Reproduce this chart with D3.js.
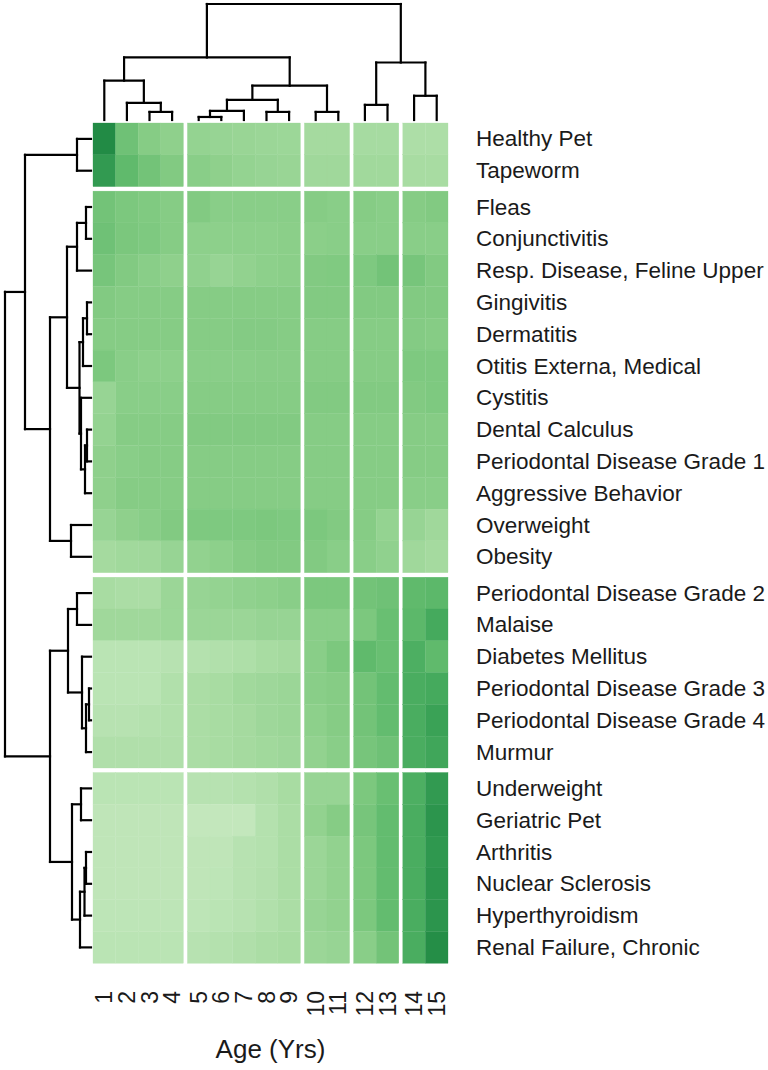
<!DOCTYPE html>
<html>
<head>
<meta charset="utf-8">
<script src="https://cdn.jsdelivr.net/npm/d3@7"></script>
<style>
  html, body { margin: 0; padding: 0; background: #ffffff; }
  svg { display: block; }
  text { font-family: "Liberation Sans", Arial, sans-serif; fill: #1a1a1a; }
</style>
</head>
<body>
<svg id="chart" width="768" height="1070"></svg>
<script>
// ---------------- data ----------------
const ages = ["1","2","3","4","5","6","7","8","9","10","11","12","13","14","15"];
const conditions = [
  "Healthy Pet","Tapeworm","Fleas","Conjunctivitis","Resp. Disease, Feline Upper",
  "Gingivitis","Dermatitis","Otitis Externa, Medical","Cystitis","Dental Calculus",
  "Periodontal Disease Grade 1","Aggressive Behavior","Overweight","Obesity",
  "Periodontal Disease Grade 2","Malaise","Diabetes Mellitus","Periodontal Disease Grade 3",
  "Periodontal Disease Grade 4","Murmur","Underweight","Geriatric Pet","Arthritis",
  "Nuclear Sclerosis","Hyperthyroidism","Renal Failure, Chronic"
];
// relative intensity (0-100) per condition, ages 1..15
const heat = [
  [100,52,40,35,32,30,29,28,27,22,22,21,21,17,17],
  [88,60,50,42,38,35,32,30,29,25,25,24,24,20,20],
  [50,45,43,40,42,38,38,38,38,40,38,40,38,40,42],
  [52,46,44,40,36,36,36,36,37,37,38,38,38,38,38],
  [48,42,38,35,34,30,33,36,37,42,43,44,50,48,42],
  [42,40,40,40,40,40,40,40,40,42,42,42,42,42,42],
  [40,40,40,40,40,40,41,41,40,40,40,40,40,41,40],
  [45,38,36,36,38,38,38,39,39,40,40,40,40,44,44],
  [30,38,38,38,40,40,40,40,40,42,42,42,42,42,44],
  [32,40,40,40,42,42,42,42,42,40,40,40,40,40,40],
  [35,38,40,40,40,40,40,40,40,40,40,40,40,40,40],
  [35,40,40,40,40,40,40,40,40,40,40,40,40,38,38],
  [30,35,38,42,44,44,44,45,44,45,42,40,32,30,25],
  [22,24,25,30,33,36,40,42,42,42,38,38,34,25,22],
  [20,18,18,28,30,32,34,36,38,45,45,50,52,60,62],
  [25,25,25,27,28,28,28,30,30,38,38,45,55,62,75],
  [8,8,8,10,12,14,16,20,22,38,45,60,55,70,60],
  [8,8,8,14,18,20,24,26,28,38,40,50,58,72,75],
  [10,10,12,14,18,20,22,26,28,36,40,50,58,72,82],
  [15,15,15,15,18,20,22,24,26,33,38,48,52,72,78],
  [8,8,8,8,10,10,12,15,20,30,30,45,55,70,88],
  [5,5,5,5,2,2,2,12,18,33,40,48,58,72,92],
  [5,5,5,5,5,5,10,12,18,28,33,45,58,72,90],
  [5,5,5,5,5,6,10,13,18,28,33,45,58,72,92],
  [6,6,6,6,6,8,10,14,18,30,33,45,58,72,92],
  [8,8,8,8,10,12,15,18,20,28,30,38,50,72,98]
];
const colGapsAfter = [4, 9, 11, 13];   // cut positions (cluster splits)
const rowGapsAfter = [2, 14, 20];

// hclust-style merges: negative = leaf (1-based), positive = earlier merge (1-based)
const colMerges = [[-5,-6],[1,-7],[-3,-4],[-8,-9],[-10,-11],[-2,3],[-12,-13],[-14,-15],
                   [2,4],[-1,6],[9,5],[7,8],[10,11],[13,12]];
const colHeights = [3,9,8,8,8,17,15,24,20,39,34,57,62,115];

const rowMerges = [[-1,-2],[-3,-4],[2,-5],[-6,-7],[4,-8],[-10,-11],[6,-12],[-9,7],[5,8],[3,9],
                   [-13,-14],[10,11],[1,12],[-15,-16],[-18,-19],[15,-20],[-17,16],[14,17],
                   [-21,-22],[-23,-24],[20,-25],[21,-26],[19,22],[18,23],[13,24]];
const rowHeights = [14,5,14,4,8,4,6,10,11.5,24,20,41,66,14,2,5,9,23,10,5,6.5,11,19,41,86];

// ---------------- layout ----------------
const svg = d3.select("#chart");
const hmLeft = 93, hmTop = 123, cellW = 22.6, cellH = 31.8, colGap = 4, rowGap = 4.5;

const xBand = d3.scaleBand().domain(ages).range([0, cellW * ages.length]);
const yBand = d3.scaleBand().domain(conditions).range([0, cellH * conditions.length]);
const colX = (i) => hmLeft + xBand(ages[i]) + colGap * colGapsAfter.filter(g => g <= i).length;
const rowY = (i) => hmTop + yBand(conditions[i]) + rowGap * rowGapsAfter.filter(g => g <= i).length;

const color = d3.scaleSequential(t => d3.interpolateGreens(0.25 + 0.5 * t)).domain([0, 100]);

// cells
const cells = [];
heat.forEach((row, r) => row.forEach((v, c) => cells.push({r, c, v})));
svg.append("g").selectAll("rect").data(cells).join("rect")
  .attr("x", d => colX(d.c))
  .attr("y", d => rowY(d.r))
  .attr("width", xBand.bandwidth())
  .attr("height", yBand.bandwidth())
  .attr("fill", d => color(d.v))
  .attr("stroke", d => color(d.v))
  .attr("stroke-width", 0.3);

// row labels
svg.append("g").selectAll("text").data(conditions).join("text")
  .attr("x", 476)
  .attr("y", (d, i) => rowY(i) + yBand.bandwidth() / 2)
  .attr("dominant-baseline", "central")
  .style("font-size", "22.5px")
  .text(d => d);

// column labels (rotated)
svg.append("g").selectAll("text").data(ages).join("text")
  .attr("transform", (d, i) => `translate(${colX(i) + xBand.bandwidth() / 2},991) rotate(-90)`)
  .attr("text-anchor", "end")
  .attr("dominant-baseline", "central")
  .style("font-size", "23px")
  .text(d => d);

// axis title
svg.append("text")
  .attr("x", hmLeft + (colX(14) + xBand.bandwidth() - hmLeft) / 2)
  .attr("y", 1058)
  .attr("text-anchor", "middle")
  .style("font-size", "26px")
  .text("Age (Yrs)");

// ---------------- dendrograms ----------------
function dendroSegments(merges, heights, leafPos) {
  const pos = [], hts = [], segs = [];
  const get = (k) => k < 0 ? {p: leafPos(-k - 1), h: 0} : {p: pos[k - 1], h: hts[k - 1]};
  merges.forEach((m, i) => {
    const a = get(m[0]), b = get(m[1]), H = heights[i];
    segs.push({p1: a.p, h1: a.h, p2: a.p, h2: H});
    segs.push({p1: b.p, h1: b.h, p2: b.p, h2: H});
    segs.push({p1: a.p, h1: H, p2: b.p, h2: H});
    pos.push((a.p + b.p) / 2); hts.push(H);
  });
  return segs;
}

// column dendrogram (top)
const colH = d3.scaleLinear().domain([0, d3.max(colHeights)]).range([120, 4]);
const colSegs = dendroSegments(colMerges, colHeights, i => colX(i) + xBand.bandwidth() / 2);
svg.append("g").selectAll("line").data(colSegs).join("line")
  .attr("x1", d => d.p1).attr("x2", d => d.p2)
  .attr("y1", d => colH(d.h1)).attr("y2", d => colH(d.h2))
  .attr("stroke", "#000").attr("stroke-width", 2.2).attr("stroke-linecap", "square");

// row dendrogram (left)
const rowH = d3.scaleLinear().domain([0, d3.max(rowHeights)]).range([91, 5]);
const rowSegs = dendroSegments(rowMerges, rowHeights, i => rowY(i) + yBand.bandwidth() / 2);
svg.append("g").selectAll("line").data(rowSegs).join("line")
  .attr("y1", d => d.p1).attr("y2", d => d.p2)
  .attr("x1", d => rowH(d.h1)).attr("x2", d => rowH(d.h2))
  .attr("stroke", "#000").attr("stroke-width", 2.2).attr("stroke-linecap", "square");
</script>
</body>
</html>
